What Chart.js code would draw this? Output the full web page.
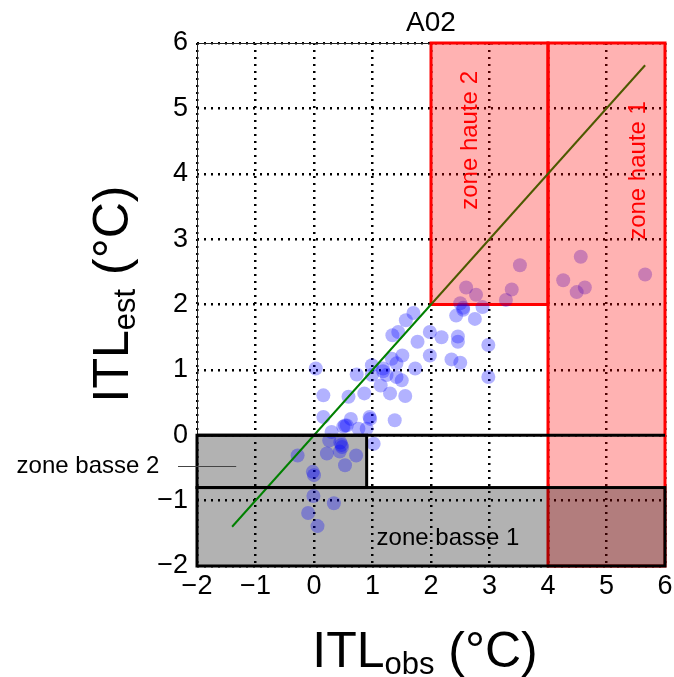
<!DOCTYPE html>
<html><head><meta charset="utf-8">
<script src="https://cdn.jsdelivr.net/npm/chart.js@4/dist/chart.umd.min.js"></script>
<style>html,body{margin:0;padding:0;background:#fff;}</style>
</head><body>
<canvas id="c" width="674" height="677"></canvas>
<script>
// ---------------- data ----------------
const chartTitle = 'A02';
const xTicks = [-2, -1, 0, 1, 2, 3, 4, 5, 6];
const yTicks = [-2, -1, 0, 1, 2, 3, 4, 5, 6];
const obsValues = [2.60, 2.77, 3.28, 3.38, 3.52, 2.50, 2.88, 2.55, 2.43, 2.75,
  1.70, 1.57, 1.44, 1.34, 1.77, 1.98, 2.18, 2.46, 2.46, 2.98,
  1.98, 2.35, 2.50, 2.98, 1.51, 1.33, 1.41, 1.73, 0.99, 1.18,
  0.99, 1.24, 1.41, 1.50, 0.73, 0.03, 1.14, 1.30, 1.56, 0.86,
  0.59, 0.16, 0.16, 0.53, 0.63, 0.96, 0.76, 0.90, 1.38, 0.30,
  1.02, 0.47, 0.45, 0.44, 0.26, 0.22, 0.72, 0.53, -0.28, -0.02,
  0.00, -0.01, 0.34, -0.10, 0.06, 4.26, 4.56, 4.49, 4.63, 5.66,
  0.56, 0.95, 1.18, 0.50, 0.48, 2.55];
const estValues = [2.26, 2.15, 2.07, 2.23, 2.60, 2.02, 1.96, 1.92, 1.83, 1.78,
  1.87, 1.76, 1.58, 1.53, 1.43, 1.58, 1.50, 1.51, 1.43, 1.38,
  1.22, 1.16, 1.11, 0.89, 1.22, 1.17, 1.10, 1.02, 1.07, 1.02,
  0.92, 0.92, 0.89, 0.84, 0.93, 1.02, 0.76, 0.64, 0.60, 0.64,
  0.59, 0.61, 0.28, 0.15, 0.25, 0.25, 0.10, 0.10, 0.23, 0.05,
  -0.13, -0.15, -0.11, -0.25, -0.08, -0.28, -0.31, -0.46, -0.31, -0.56,
  -0.61, -0.93, -1.04, -1.19, -1.39, 2.37, 2.73, 2.19, 2.26, 2.46,
  0.15, 0.28, 0.98, 0.13, -0.18, 1.95];
const refLineX = [-1.4, 5.66];
const refLineY = [-1.4, 5.66];
const zoneNames = ['zone haute 1', 'zone haute 2', 'zone basse 1', 'zone basse 2'];
const zoneKind  = ['haute', 'haute', 'basse', 'basse'];
const zoneX0 = [4, 2, -2, -2];
const zoneX1 = [6, 4, 6, 0.9];
const zoneY0 = [-2, 2, -2, -0.8];
const zoneY1 = [6, 6, -0.8, 0];
const zeroLineY = 0;

// ---------------- helpers ----------------
const FONT = "'Liberation Sans', Arial, sans-serif";
const fmt = v => (v < 0 ? '\u2212' + Math.abs(v) : String(v));

function rectPx(chart, x0, x1, y0, y1) {
  const {x, y} = chart.scales;
  const l = x.getPixelForValue(x0), r = x.getPixelForValue(x1);
  const t = y.getPixelForValue(y1), b = y.getPixelForValue(y0);
  return [l, t, r - l, b - t];
}

function drawSubText(ctx, parts, cx, baseY) {
  let total = 0;
  parts.forEach(p => { ctx.font = p.size + 'px ' + FONT; p.w = ctx.measureText(p.t).width; total += p.w; });
  let xx = cx - total / 2;
  ctx.textAlign = 'left';
  ctx.textBaseline = 'alphabetic';
  parts.forEach(p => { ctx.font = p.size + 'px ' + FONT; ctx.fillText(p.t, xx, baseY + (p.dy || 0)); xx += p.w; });
}

const basseTop = zoneY1[zoneNames.indexOf('zone basse 1')];

const zonesPlugin = {
  id: 'zones',
  beforeDatasetsDraw(chart) {
    const ctx = chart.ctx, a = chart.chartArea;
    ctx.save();
    // frame
    ctx.strokeStyle = '#222'; ctx.lineWidth = 1;
    ctx.strokeRect(a.left + 0.5, a.top + 0.5, a.right - a.left - 1, a.bottom - a.top - 1);
    // red parts lying under the grey zone
    zoneNames.forEach((n, i) => {
      if (zoneKind[i] !== 'haute') return;
      const lo = zoneY0[i], hi = Math.min(zoneY1[i], basseTop);
      if (hi <= lo) return;
      ctx.fillStyle = 'rgba(255,0,0,0.3)';
      ctx.fillRect(...rectPx(chart, zoneX0[i], zoneX1[i], lo, hi));
    });
    // red borders
    zoneNames.forEach((n, i) => {
      if (zoneKind[i] !== 'haute') return;
      ctx.strokeStyle = '#ff0000'; ctx.lineWidth = 3;
      ctx.strokeRect(...rectPx(chart, zoneX0[i], zoneX1[i], zoneY0[i], zoneY1[i]));
    });
    // grey fills
    zoneNames.forEach((n, i) => {
      if (zoneKind[i] !== 'basse') return;
      ctx.fillStyle = 'rgba(0,0,0,0.3)';
      ctx.fillRect(...rectPx(chart, zoneX0[i], zoneX1[i], zoneY0[i], zoneY1[i]));
    });
    ctx.restore();
  },
  afterDatasetsDraw(chart) {
    const ctx = chart.ctx, a = chart.chartArea;
    const {x, y} = chart.scales;
    ctx.save();
    zoneNames.forEach((n, i) => {
      if (zoneKind[i] !== 'haute') return;
      const lo = Math.max(zoneY0[i], basseTop), hi = zoneY1[i];
      if (hi <= lo) return;
      ctx.fillStyle = 'rgba(255,0,0,0.3)';
      ctx.fillRect(...rectPx(chart, zoneX0[i], zoneX1[i], lo, hi));
    });
    // black borders
    ctx.strokeStyle = '#000'; ctx.lineWidth = 3;
    zoneNames.forEach((n, i) => {
      if (zoneKind[i] !== 'basse') return;
      ctx.strokeRect(...rectPx(chart, zoneX0[i], zoneX1[i], zoneY0[i], zoneY1[i]));
    });
    ctx.beginPath();
    ctx.moveTo(x.getPixelForValue(x.min), y.getPixelForValue(zeroLineY));
    ctx.lineTo(x.getPixelForValue(x.max), y.getPixelForValue(zeroLineY));
    ctx.stroke();

    // zone labels
    ctx.font = '24px ' + FONT;
    ctx.textAlign = 'center'; ctx.textBaseline = 'middle';
    ctx.fillStyle = '#ff0000';
    [[1, 2.67, 4.51], [0, 5.54, 4.05]].forEach(([i, lx, ly]) => {
      ctx.save();
      ctx.translate(x.getPixelForValue(lx), y.getPixelForValue(ly));
      ctx.rotate(-Math.PI / 2);
      ctx.fillText(zoneNames[i], 0, 0);
      ctx.restore();
    });
    ctx.fillStyle = '#000';
    ctx.fillText(zoneNames[2], x.getPixelForValue(2.29), y.getPixelForValue(-1.57));
    ctx.restore();
  },
  afterDraw(chart) {
    const ctx = chart.ctx;
    const {x, y} = chart.scales;
    ctx.save();
    // outside label "zone basse 2" with leader line
    const ly = y.getPixelForValue(-0.47);
    ctx.font = '24px ' + FONT;
    ctx.fillStyle = '#000'; ctx.textAlign = 'center'; ctx.textBaseline = 'middle';
    ctx.fillText(zoneNames[3], 88, ly);
    ctx.strokeStyle = '#444'; ctx.lineWidth = 1;
    ctx.beginPath(); ctx.moveTo(178, Math.round(ly) + 0.5); ctx.lineTo(x.getPixelForValue(-1.33), Math.round(ly) + 0.5); ctx.stroke();
    // title
    ctx.font = '28px ' + FONT; ctx.textAlign = 'center'; ctx.textBaseline = 'alphabetic';
    ctx.fillText(chartTitle, (chart.chartArea.left + chart.chartArea.right) / 2, 31);
    // x axis title
    drawSubText(ctx, [{t: 'ITL', size: 50}, {t: 'obs', size: 31, dy: 7}, {t: ' (°C)', size: 50}], 425, 667);
    // y axis title
    ctx.translate(128, 294);
    ctx.rotate(-Math.PI / 2);
    drawSubText(ctx, [{t: 'ITL', size: 50}, {t: 'est', size: 31, dy: 7}, {t: ' (°C)', size: 50}], 0, 0);
    ctx.restore();
  }
};

new Chart(document.getElementById('c'), {
  type: 'scatter',
  data: {
    datasets: [
      {
        type: 'line',
        data: refLineX.map((v, i) => ({x: v, y: refLineY[i]})),
        borderColor: '#008000', borderWidth: 2, pointRadius: 0, fill: false, order: 0
      },
      {
        data: obsValues.map((v, i) => ({x: v, y: estValues[i]})),
        backgroundColor: 'rgba(0,0,255,0.3)', borderWidth: 0, pointRadius: 7, order: 1
      }
    ]
  },
  options: {
    responsive: false, animation: false, devicePixelRatio: 1,
    layout: {padding: {top: 43, right: 9, left: 0, bottom: 0}},
    plugins: {legend: {display: false}, tooltip: {enabled: false}, title: {display: false}},
    scales: {
      x: {
        type: 'linear', min: -2, max: 6,
        afterBuildTicks: s => { s.ticks = xTicks.map(v => ({value: v})); },
        afterFit: s => { s.height = 111; s.paddingLeft = 0; s.paddingRight = 0; },
        ticks: {font: {family: FONT, size: 27}, color: '#000', padding: 4, maxRotation: 0, autoSkip: false, callback: fmt},
        grid: {color: '#000', lineWidth: 2.5, drawTicks: false},
        border: {display: false, dash: [2, 5]}
      },
      y: {
        type: 'linear', min: -2, max: 6,
        afterBuildTicks: s => { s.ticks = yTicks.map(v => ({value: v})); },
        afterFit: s => { s.width = 197; s.paddingTop = 0; s.paddingBottom = 0; },
        ticks: {font: {family: FONT, size: 27}, color: '#000', padding: 9, autoSkip: false, callback: fmt},
        grid: {color: '#000', lineWidth: 2.5, drawTicks: false},
        border: {display: false, dash: [2, 5]}
      }
    }
  },
  plugins: [zonesPlugin]
});
</script>
</body></html>
